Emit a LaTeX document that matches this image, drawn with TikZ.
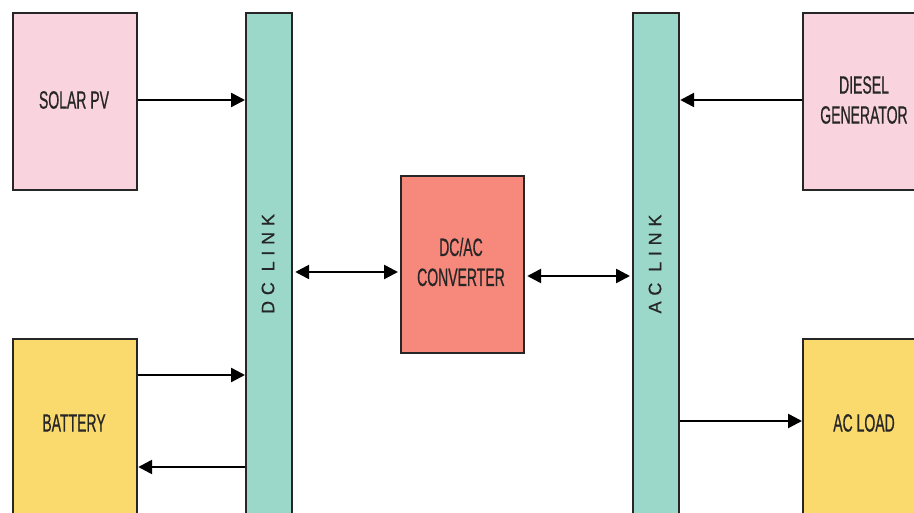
\documentclass[tikz,border=0pt]{standalone}
\usepackage{fontspec}
\setmainfont{Liberation Sans}
\newfontfamily\narrowf[FakeStretch=0.56,FakeBold=0.6]{Liberation Sans}
\newfontfamily\spacedf[LetterSpace=32,FakeBold=0.6]{Liberation Sans}
\usetikzlibrary{arrows.meta}
\definecolor{pinkbox}{HTML}{F9D3DE}
\definecolor{tealbar}{HTML}{9BD8CA}
\definecolor{salmon}{HTML}{F6897B}
\definecolor{yellowbox}{HTML}{FBDA6D}
\tikzset{
  blk/.style={draw=black!85, line width=2.2pt, rectangle, anchor=north west, inner sep=0pt},
  lbl/.style={font=\narrowf\fontsize{25}{30}\selectfont, text=black!85, align=center},
  barlbl/.style={font=\spacedf\fontsize{18}{20}\selectfont, text=black!85, rotate=90},
  arr/.style={line width=2.5pt, -{Triangle[length=14pt,width=14pt]}},
  darr/.style={line width=2.5pt, {Triangle[length=14pt,width=14pt]}-{Triangle[length=14pt,width=14pt]}}
}
\begin{document}
\begin{tikzpicture}[x=1pt,y=1pt]
\useasboundingbox (0,0) rectangle (914,513);
\clip (0,0) rectangle (914,513);
% boxes (y measured from top: y' = 513 - y)
\node[blk, fill=pinkbox, minimum width=124pt, minimum height=177pt] (solar) at (12,501) {};
\node[blk, fill=tealbar, minimum width=46pt, minimum height=510pt] (dclink) at (245,501) {};
\node[blk, fill=salmon, minimum width=123pt, minimum height=177pt] (conv) at (400,338) {};
\node[blk, fill=tealbar, minimum width=46pt, minimum height=510pt] (aclink) at (632,501) {};
\node[blk, fill=pinkbox, minimum width=124pt, minimum height=177pt] (diesel) at (802,501) {};
\node[blk, fill=yellowbox, minimum width=124pt, minimum height=180pt] (battery) at (12,175) {};
\node[blk, fill=yellowbox, minimum width=124pt, minimum height=180pt] (acload) at (802,175) {};
% labels
\node[lbl] (solart) at (74,413) {SOLAR PV};
\node[lbl] (convt) at (461,251) {DC/AC\\CONVERTER};
\node[lbl] (dieselt) at (864,413) {DIESEL\\GENERATOR};
\node[lbl] (batteryt) at (74,90) {BATTERY};
\node[lbl] (acloadt) at (864,90) {AC LOAD};
\node[barlbl] (dct) at (268,249) {DC LINK};
\node[barlbl] (act) at (655,249) {AC LINK};
% connectors
\coordinate (s1) at (solar.east |- 0,413);
\draw[arr] (s1) -- (s1 -| dclink.west);
\coordinate (b1) at (battery.east |- 0,138);
\draw[arr] (b1) -- (b1 -| dclink.west);
\coordinate (b2) at (dclink.west |- 0,46);
\draw[arr] (b2) -- (b2 -| battery.east);
\coordinate (c1) at (dclink.east |- 0,241);
\draw[darr] ([xshift=2pt]c1) -- ([xshift=-2pt]c1 -| conv.west);
\coordinate (c2) at (conv.east |- 0,237);
\draw[darr] ([xshift=2pt]c2) -- ([xshift=-2pt]c2 -| aclink.west);
\coordinate (d1) at (diesel.west |- 0,413);
\draw[arr] (d1) -- (d1 -| aclink.east);
\coordinate (l1) at (aclink.east |- 0,92);
\draw[arr] (l1) -- (l1 -| acload.west);
\end{tikzpicture}
\end{document}
